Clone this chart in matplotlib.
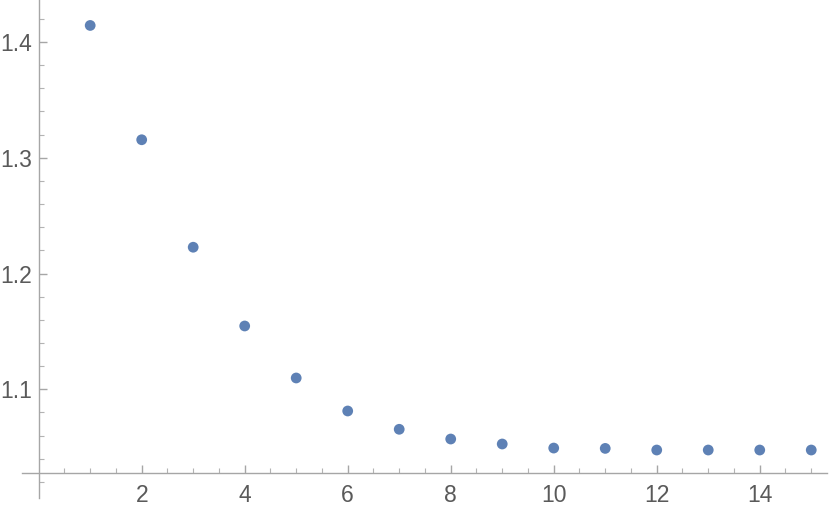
import matplotlib
matplotlib.use("Agg")
import matplotlib.pyplot as plt
from matplotlib.ticker import FixedLocator

n = [1, 2, 3, 4, 5, 6, 7, 8, 9, 10, 11, 12, 13, 14, 15]
values = [1.4142, 1.3155, 1.2227, 1.1547, 1.1098, 1.0813, 1.0655, 1.0571,
          1.0528, 1.0493, 1.0490, 1.0476, 1.0476, 1.0476, 1.0476]

x_ticks = [2, 4, 6, 8, 10, 12, 14]
y_ticks = [1.1, 1.2, 1.3, 1.4]

plt.rcParams['font.family'] = ['Liberation Sans', 'DejaVu Sans']

fig = plt.figure(figsize=(8.3, 5.11), dpi=100)
ax = fig.add_axes([22.2 / 830, 1 - 498.2 / 511, (826.7 - 22.2) / 830, 498.0 / 511])

ax.scatter(n, values, s=60, color='#5e81b5', edgecolors='none', zorder=3)

ax.set_xlim(-0.32, 15.3)
ax.set_ylim(1.006, 1.436)

axis_col = '#a6a6a6'
for side in ['top', 'right']:
    ax.spines[side].set_visible(False)
ax.spines['left'].set_position(('data', 0))
ax.spines['bottom'].set_position(('data', 1.028))
for side in ['left', 'bottom']:
    ax.spines[side].set_color(axis_col)
    ax.spines[side].set_linewidth(1.0)

ax.xaxis.set_major_locator(FixedLocator(x_ticks))
ax.xaxis.set_minor_locator(FixedLocator([i * 0.5 for i in range(1, 31) if i % 4 != 0]))
ax.yaxis.set_major_locator(FixedLocator(y_ticks))
ax.yaxis.set_minor_locator(FixedLocator([1.02 + 0.02 * i for i in range(21)
                                         if round((1.02 + 0.02 * i) * 100) % 10 != 0]))

ax.tick_params(axis='both', which='major', direction='in', length=6, width=1,
               color=axis_col, labelcolor='#5a5a5a', labelsize=16.5)
ax.tick_params(axis='both', which='minor', direction='in', length=3.5, width=0.8,
               color='#b3b3b3')
ax.tick_params(axis='x', which='major', pad=8)
ax.tick_params(axis='y', which='major', pad=5)
ax.set_yticklabels(['1.1', '1.2', '1.3', '1.4'])
ax.set_xticklabels([str(t) for t in x_ticks])

fig.savefig('out.png', dpi=100)
